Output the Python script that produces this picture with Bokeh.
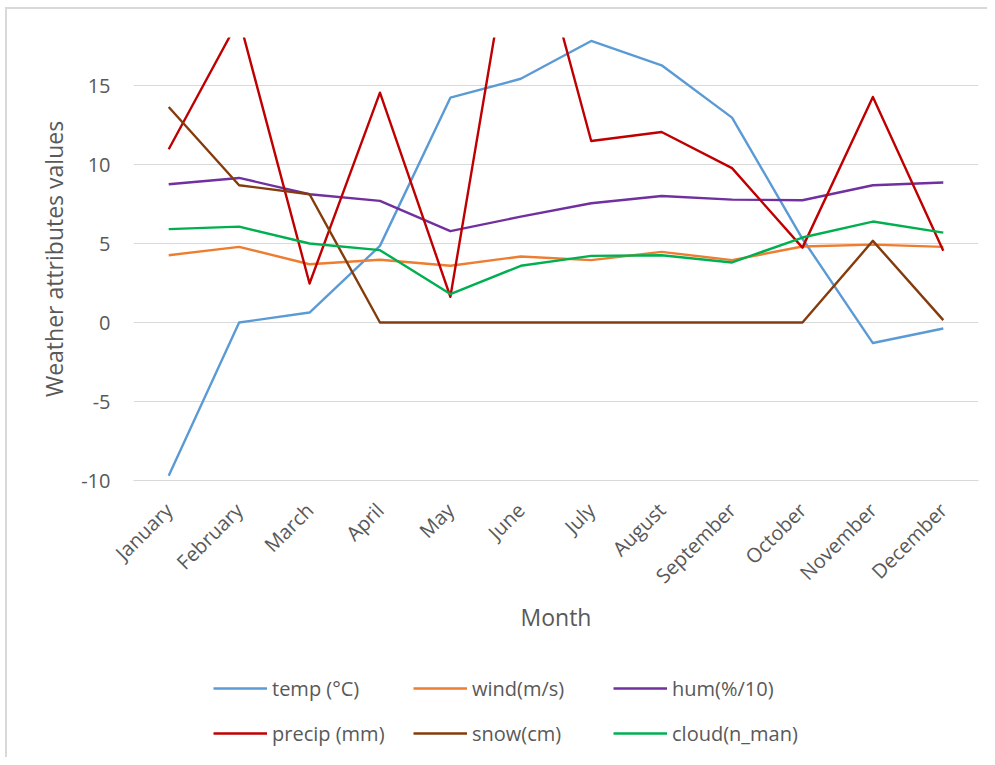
import math
from bokeh.plotting import figure
from bokeh.layouts import column
from bokeh.models import FactorRange, Range1d, FixedTicker, Legend, LegendItem
from bokeh.embed import file_html
from bokeh.resources import INLINE

months = ["January", "February", "March", "April", "May", "June", "July",
          "August", "September", "October", "November", "December"]

temp = [-9.7, 0.0, 0.63, 4.85, 14.23, 15.43, 17.82, 16.28, 12.97, 5.3, -1.3, -0.38]
wind = [4.26, 4.79, 3.69, 3.97, 3.59, 4.18, 3.95, 4.47, 3.95, 4.81, 4.93, 4.79]
hum = [8.75, 9.15, 8.12, 7.70, 5.78, 6.70, 7.55, 8.01, 7.78, 7.74, 8.69, 8.86]
precip = [10.97, 19.2, 2.47, 14.55, 1.63, 28.0, 11.49, 12.06, 9.77, 4.74, 14.28, 4.54]
snow = [13.64, 8.69, 8.12, 0.0, 0.0, 0.0, 0.0, 0.0, 0.0, 0.0, 5.17, 0.15]
cloud = [5.91, 6.07, 5.00, 4.58, 1.80, 3.59, 4.22, 4.26, 3.80, 5.38, 6.39, 5.69]

series_names = ["temp (°C)", "wind(m/s)", "hum(%/10)", "precip (mm)", "snow(cm)", "cloud(n_man)"]
series_values = [temp, wind, hum, precip, snow, cloud]
series_colors = ["#5B9BD5", "#ED7D31", "#7030A0", "#C00000", "#843C0C", "#00B050"]

y_ticks = [-10, -5, 0, 5, 10, 15]
y_tick_labels = {t: str(t) for t in y_ticks}

FONT = "Open Sans"
TXT = "#595959"
GRID = "#d9d9d9"
LW = 2.4

x_range = FactorRange(*months, range_padding=0)

p = figure(width=987, height=645, x_range=x_range,
           y_range=Range1d(-10, 18.04), output_backend="svg", toolbar_location=None,
           min_border_left=133, min_border_top=37, min_border_right=9, min_border_bottom=165,
           styles={"background-color": "white",
                   "box-shadow": "inset 5px 7px 0 0 white, inset 7px 9px 0 0 #d9d9d9"})
p.outline_line_color = None
p.background_fill_color = "white"
p.border_fill_color = None

for vals, col in zip(series_values, series_colors):
    p.line(months, vals, line_color=col, line_width=LW, line_join="round")

p.xgrid.grid_line_color = None
p.ygrid.grid_line_color = GRID
p.ygrid.grid_line_width = 1
p.yaxis.ticker = FixedTicker(ticks=y_ticks)
p.yaxis.major_label_overrides = y_tick_labels

for ax in (p.xaxis[0], p.yaxis[0]):
    ax.major_tick_line_color = None
    ax.minor_tick_line_color = None
    ax.major_label_text_font = FONT
    ax.major_label_text_color = TXT
    ax.axis_label_text_font = FONT
    ax.axis_label_text_color = TXT
    ax.axis_label_text_font_style = "normal"
    ax.axis_label_text_font_size = "23px"

p.yaxis.axis_line_color = None
p.yaxis.major_label_text_font_size = "20px"
p.yaxis.major_label_standoff = 17
p.yaxis.axis_label = "Weather attributes values"
p.yaxis.axis_label_standoff = 8

p.xaxis.axis_line_color = GRID
p.xaxis.major_label_text_font_size = "20px"
p.xaxis.major_label_orientation = math.pi / 4
p.xaxis.major_label_standoff = 20
p.xaxis.axis_label = "Month"
p.xaxis.axis_label_standoff = 0

# legend strip below the chart (series drawn outside its visible y range)
q = figure(width=987, height=112, x_range=x_range, y_range=Range1d(100, 101),
           output_backend="svg", toolbar_location=None,
           x_axis_location=None, y_axis_location=None,
           min_border_left=0, min_border_right=0, min_border_top=0, min_border_bottom=0,
           styles={"background-color": "white",
                   "box-shadow": "inset 5px 0 0 0 white, inset 7px 0 0 0 #d9d9d9"})
q.outline_line_color = None
q.background_fill_color = None
q.border_fill_color = None
q.xgrid.grid_line_color = None
q.ygrid.grid_line_color = None

items = []
for name, vals, col in zip(series_names, series_values, series_colors):
    r = q.line(months, vals, line_color=col, line_width=LW)
    items.append(LegendItem(label=name, renderers=[r]))

legend = Legend(items=items, location=(80, 7), orientation="horizontal", ncols=3,
                glyph_width=54, glyph_height=20, label_standoff=5,
                label_width=130, label_height=34, spacing=11,
                padding=0, margin=0, border_line_color=None,
                background_fill_alpha=0,
                label_text_font=FONT, label_text_font_size="20px",
                label_text_color=TXT)
q.add_layout(legend, "center")

layout = column(p, q, spacing=0)
open("out.html", "w").write(file_html(layout, INLINE))
